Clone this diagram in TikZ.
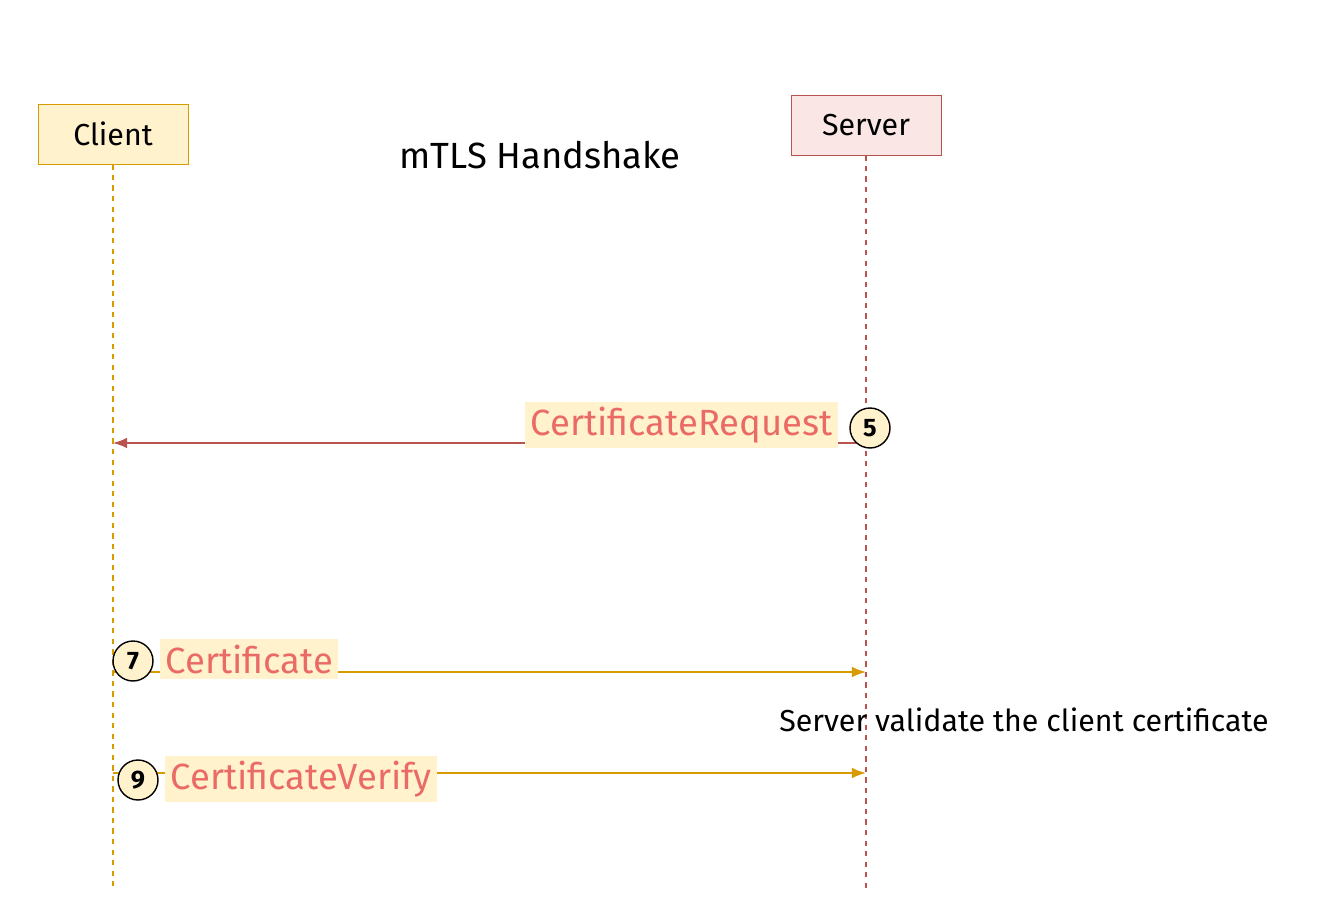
\documentclass[tikz,border=0pt]{standalone}
\usepackage{fontspec}
\usetikzlibrary{arrows.meta}
\setmainfont{Fira Sans}
\definecolor{cy}{HTML}{D79B00}
\definecolor{cyf}{HTML}{FFF2CC}
\definecolor{cr}{HTML}{B85450}
\definecolor{crf}{HTML}{F8CECC}
\definecolor{ct}{HTML}{EA6B66}
\begin{document}
\begin{tikzpicture}[x=0.02cm,y=-0.02cm,
 box/.style={draw,minimum width=3cm,minimum height=1.2cm,font=\LARGE},
 lab/.style={fill=cyf,text=ct,font=\huge,inner sep=3pt},
 num/.style={circle,draw,fill=cyf,thick,minimum size=0.8cm,inner sep=0pt,font=\Large\bfseries},
 life/.style={dashed,thick},
 msg/.style={-{Latex[length=8pt]},thick}]
\useasboundingbox (0,0) rectangle (1330,900);
\node[box,draw=cy,fill=cyf] (client) at (113,134) {Client};
\node[box,draw=cr,fill=crf!50] (server) at (866,125) {Server};
\node[font=\huge] (title) at (540,155) {mTLS Handshake};
\coordinate (cend) at (113,890);
\coordinate (send) at (866,890);
\draw[life,cy] (client) -- (cend);
\draw[life,cr] (server) -- (send);
\coordinate (s5) at (866,443); \coordinate (c5) at (113,443);
\coordinate (c7) at (113,672); \coordinate (s7) at (866,672);
\coordinate (c9) at (113,773); \coordinate (s9) at (866,773);
\draw[msg,cr] (s5) -- (c5);
\draw[msg,cy] (c7) -- (s7);
\draw[msg,cy] (c9) -- (s9);
\node[lab,anchor=east] (l5) at (838,425) {CertificateRequest};
\node[num] (n5) at (870,428) {5};
\node[lab,anchor=west] (l7) at (160,659) {Certificate};
\node[num] (n7) at (133,661) {7};
\node[lab,anchor=west] (l9) at (165,779) {CertificateVerify};
\node[num] (n9) at (138,780) {9};
\node[font=\LARGE] (val) at (1024,720) {Server validate the client certificate};
\end{tikzpicture}
\end{document}
